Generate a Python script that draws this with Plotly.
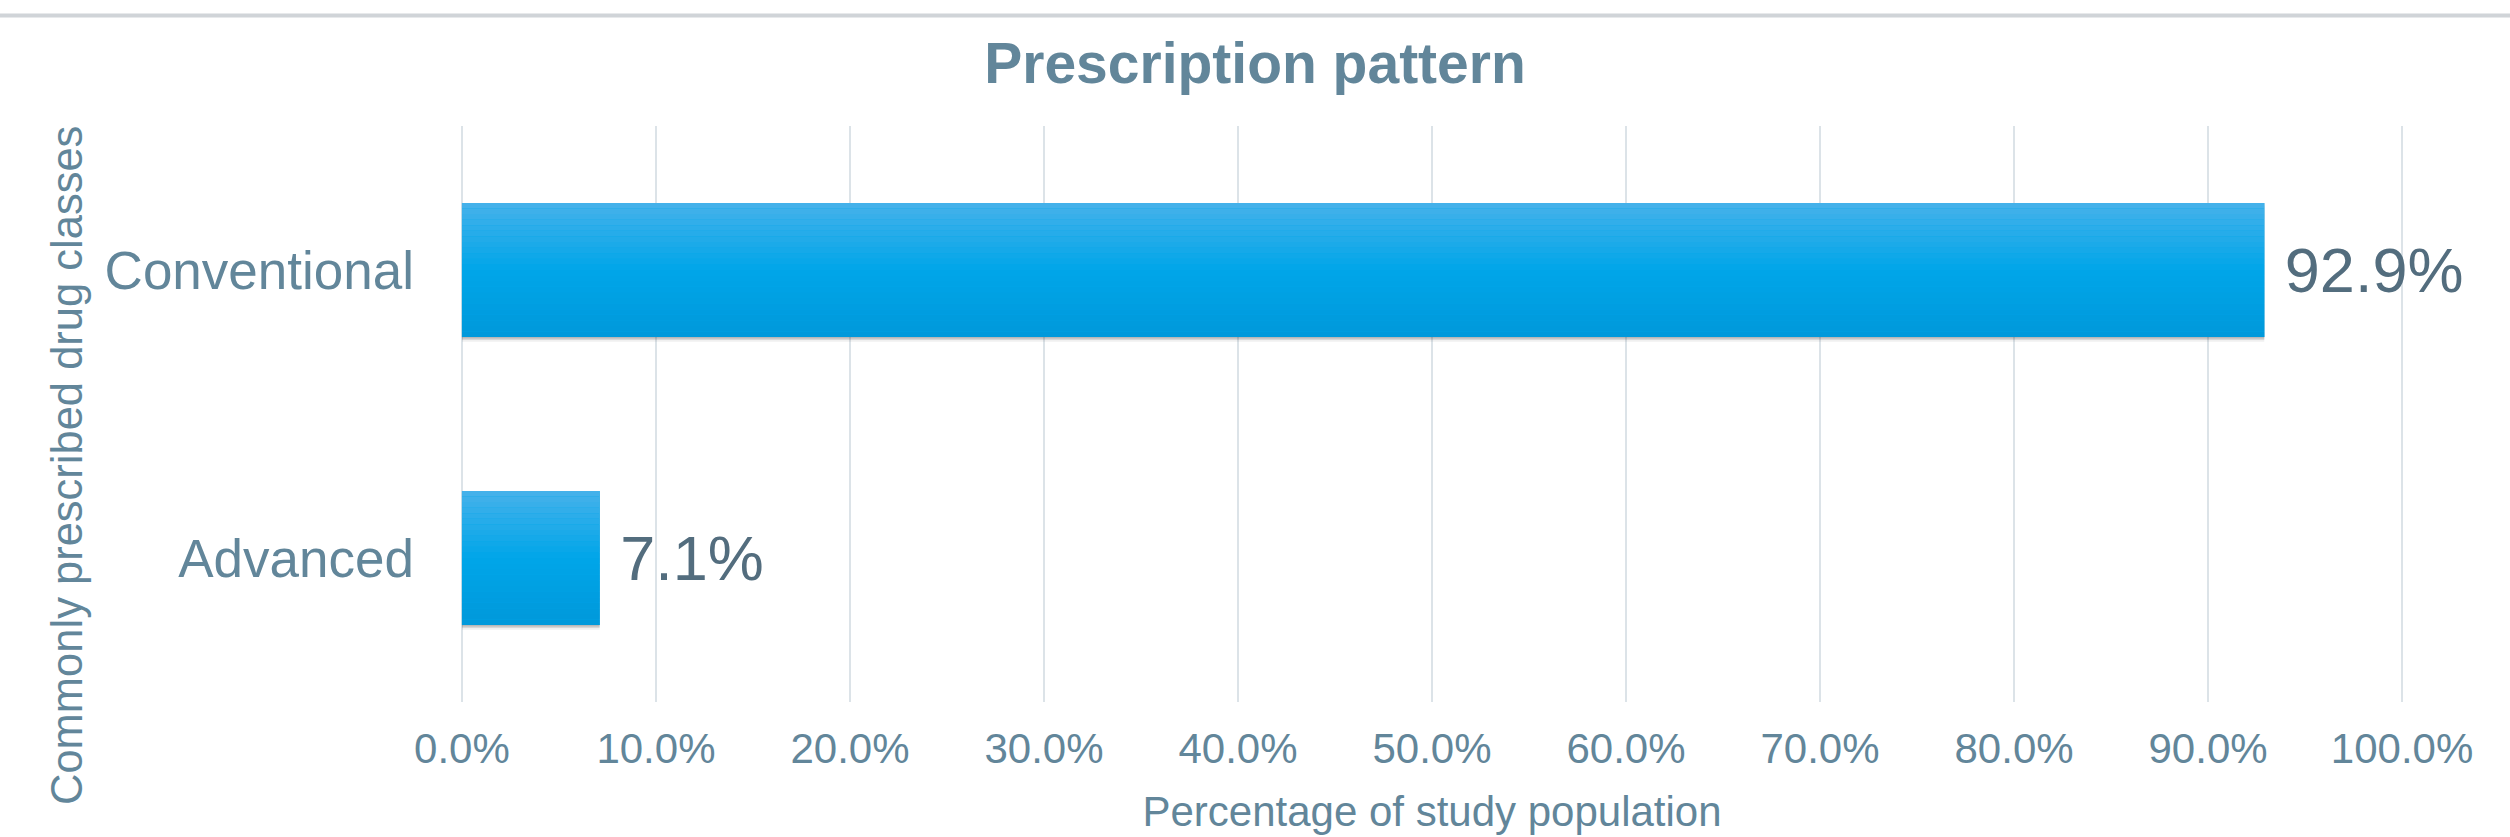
import plotly.graph_objects as go

# ---- data ----
categories = ["Conventional", "Advanced"]
values = [0.929, 0.071]
x_ticks = [0.0, 0.1, 0.2, 0.3, 0.4, 0.5, 0.6, 0.7, 0.8, 0.9, 1.0]
title_text = "Prescription pattern"
x_title = "Percentage of study population"
y_title = "Commonly prescribed drug classes"

FONT = "Liberation Sans, Arial, sans-serif"
TXT = "#62869a"
LBL = "#536d7e"
BAR_W = 0.466
N_SLICES = 24

def lerp(c1, c2, t):
    return tuple(round(a + (b - a) * t) for a, b in zip(c1, c2))

top_c, mid_c, bot_c = (0x47, 0xb1, 0xea), (0x00, 0xa6, 0xe9), (0x00, 0x98, 0xda)

def grad(t):
    if t < 0.5:
        c = lerp(top_c, mid_c, t / 0.5)
    else:
        c = lerp(mid_c, bot_c, (t - 0.5) / 0.5)
    return "rgb(%d,%d,%d)" % c

fig = go.Figure()

# soft shadow underneath
for k, a in [(0.016, 0.06), (0.010, 0.10), (0.005, 0.14)]:
    fig.add_trace(go.Bar(
        y=categories, x=values, orientation="h",
        width=BAR_W, offset=-BAR_W / 2 - k,
        marker=dict(color="rgba(0,0,0,%.2f)" % a, line=dict(width=0)),
        hoverinfo="skip", showlegend=False,
    ))

# base bar carrying the data labels
fig.add_trace(go.Bar(
    y=categories, x=values, orientation="h",
    width=BAR_W,
    marker=dict(color=grad(0.5), line=dict(width=0)),
    text=values, texttemplate=" %{x:.1%}", textposition="outside",
    outsidetextfont=dict(family=FONT, size=63, color=LBL),
    constraintext="none", cliponaxis=False,
    showlegend=False,
))

# vertical gradient slices
for i in range(N_SLICES):
    t = (i + 0.5) / N_SLICES
    fig.add_trace(go.Bar(
        y=categories, x=values, orientation="h",
        width=BAR_W / N_SLICES,
        offset=BAR_W / 2 - (i + 1) * BAR_W / N_SLICES,
        marker=dict(color=grad(t), line=dict(width=0)),
        hoverinfo="skip", showlegend=False,
    ))

PL, PR = 460, 106
PW = 2510 - PL - PR

fig.update_layout(
    width=2510, height=837,
    margin=dict(l=PL, r=PR, t=126, b=135),
    paper_bgcolor="white", plot_bgcolor="white",
    barmode="overlay",
    title=dict(text="<b>" + title_text + "</b>", x=0.5, xanchor="center",
               xref="container", yref="container", y=1 - 63 / 837, yanchor="middle",
               font=dict(family=FONT, size=57, color=TXT)),
    xaxis=dict(range=[-0.001, 1.001], tickvals=x_ticks, tickformat=".1%",
               showgrid=True, gridcolor="#dce3e8", gridwidth=2,
               zeroline=False, showline=False, ticks="",
               tickfont=dict(family=FONT, size=42, color=TXT),
               ticklabelstandoff=18,
               title=dict(text=x_title, font=dict(family=FONT, size=42, color=TXT),
                          standoff=25)),
    yaxis=dict(categoryorder="array", categoryarray=categories[::-1],
               range=[-0.5, 1.5],
               showgrid=False, zeroline=False, showline=False, ticks="",
               tickfont=dict(family=FONT, size=53, color=TXT),
               ticklabelstandoff=45),
    shapes=[dict(type="line", xref="paper", yref="paper",
                 x0=-PL / PW, x1=(2510 - PL) / PW,
                 y0=(702 - 15.5) / 576, y1=(702 - 15.5) / 576,
                 line=dict(color="#d0d4d8", width=4))],
    annotations=[dict(text=y_title, textangle=-90, xref="paper", yref="paper",
                      x=(67 - PL) / PW, y=(702 - 466) / 576,
                      xanchor="center", yanchor="middle", showarrow=False,
                      font=dict(family=FONT, size=43.5, color=TXT))],
)

fig.write_html("out.html")
